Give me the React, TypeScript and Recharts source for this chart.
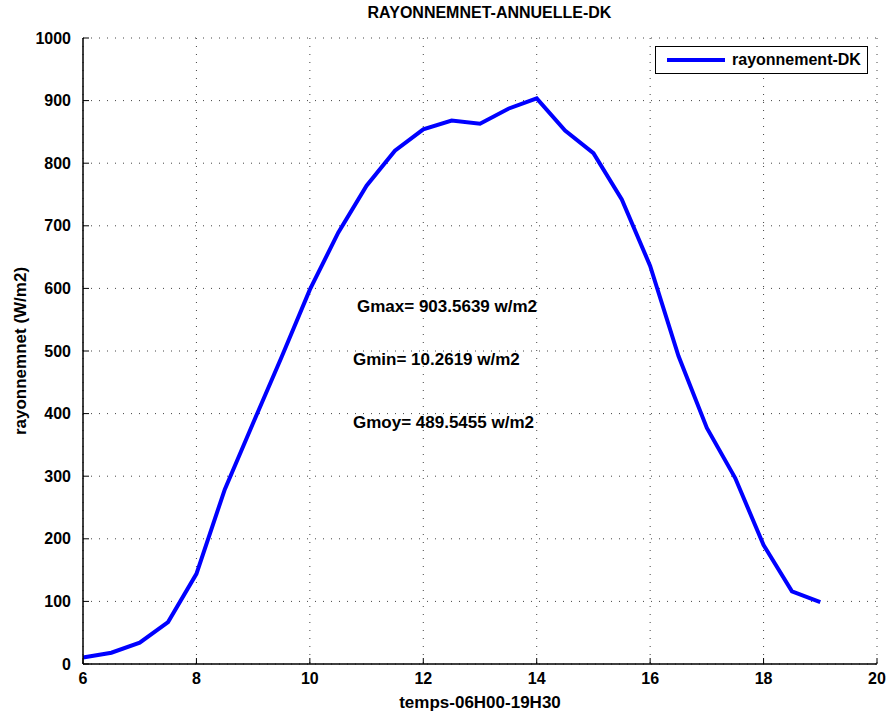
import { CartesianGrid, Line, LineChart, XAxis, YAxis } from "recharts";

const hours = [6, 6.5, 7, 7.5, 8, 8.5, 9, 9.5, 10, 10.5, 11, 11.5, 12, 12.5, 13, 13.5, 14, 14.5, 15, 15.5, 16, 16.5, 17, 17.5, 18, 18.5, 19];
const rayonnement = [10.26, 18, 34, 67, 144, 279, 385, 490, 598, 689, 764, 820, 854, 868, 863, 887, 903.56, 852, 816, 742, 636, 492, 377, 297, 190, 116, 99];
const xTicks = [6, 8, 10, 12, 14, 16, 18, 20];
const yTicks = [0, 100, 200, 300, 400, 500, 600, 700, 800, 900, 1000];
const notes = ["Gmax= 903.5639 w/m2", "Gmin= 10.2619 w/m2", "Gmoy= 489.5455 w/m2"];

const data = hours.map((h, i) => ({ h, v: rayonnement[i] }));

const FONT = "'Liberation Sans', Arial, sans-serif";
const tickStyle = { fill: "#000", fontSize: 16, fontWeight: 700, fontFamily: FONT };
const labelStyle = { ...tickStyle, fontSize: 17 };
const noteStyle = { fontFamily: FONT, fontWeight: 700, fontSize: 17, color: "#000", whiteSpace: "nowrap" as const };

function LegendBox() {
  return (
    <div
      style={{
        position: "absolute",
        left: 655,
        top: 46,
        border: "1.5px solid #000",
        background: "#fff",
        width: 213,
        height: 28,
        display: "flex",
        alignItems: "center",
        boxSizing: "border-box",
        fontFamily: FONT,
        fontWeight: 700,
        fontSize: 16,
      }}
    >
      <div style={{ width: 58, height: 4, background: "#0000ff", marginLeft: 11, marginRight: 7 }} />
      <span>rayonnement-DK</span>
    </div>
  );
}

export default function App() {
  return (
    <div style={{ position: "absolute", left: 0, top: 0, width: 889, height: 715, background: "#fff" }}>
      <LineChart width={889} height={715} data={data} margin={{ top: 38, right: 12, left: 33, bottom: 21 }}>
        <CartesianGrid stroke="#444" strokeDasharray="1 7" />
        <XAxis
          dataKey="h"
          type="number"
          domain={[6, 20]}
          ticks={xTicks}
          height={30}
          tick={tickStyle}
          tickSize={-6}
          tickMargin={15}
          axisLine={{ stroke: "#000", strokeWidth: 1.5 }}
          tickLine={{ stroke: "#000" }}
          label={{ value: "temps-06H00-19H30", position: "insideBottom", offset: -14, style: labelStyle }}
        />
        <XAxis xAxisId="top" orientation="top" dataKey="h" type="number" domain={[6, 20]} ticks={xTicks} tick={false} tickSize={-6} height={0} axisLine={{ stroke: "#000", strokeWidth: 1.5 }} tickLine={{ stroke: "#000" }} />
        <YAxis
          type="number"
          domain={[0, 1000]}
          ticks={yTicks}
          width={50}
          tick={tickStyle}
          tickSize={-6}
          tickMargin={18}
          axisLine={{ stroke: "#000", strokeWidth: 1.5 }}
          tickLine={{ stroke: "#000" }}
          label={{ value: "rayonnemnet (W/m2)", angle: -90, position: "insideLeft", offset: -13, style: { ...labelStyle, textAnchor: "middle" } }}
        />
        <YAxis yAxisId="right" orientation="right" type="number" domain={[0, 1000]} ticks={yTicks} tick={false} tickSize={-6} width={0} axisLine={{ stroke: "#000", strokeWidth: 1.5 }} tickLine={{ stroke: "#000" }} />
        <Line type="linear" dataKey="v" stroke="#0000ff" strokeWidth={4} dot={false} isAnimationActive={false} />
      </LineChart>
      <LegendBox />
      <div style={{ position: "absolute", top: 4, left: 0, width: 889, paddingLeft: 90, boxSizing: "border-box", textAlign: "center", ...noteStyle, fontSize: 16 }}>
        RAYONNEMNET-ANNUELLE-DK
      </div>
      <div style={{ position: "absolute", left: 357, top: 297, ...noteStyle }}>{notes[0]}</div>
      <div style={{ position: "absolute", left: 353, top: 350, ...noteStyle }}>{notes[1]}</div>
      <div style={{ position: "absolute", left: 353, top: 413, ...noteStyle }}>{notes[2]}</div>
    </div>
  );
}
